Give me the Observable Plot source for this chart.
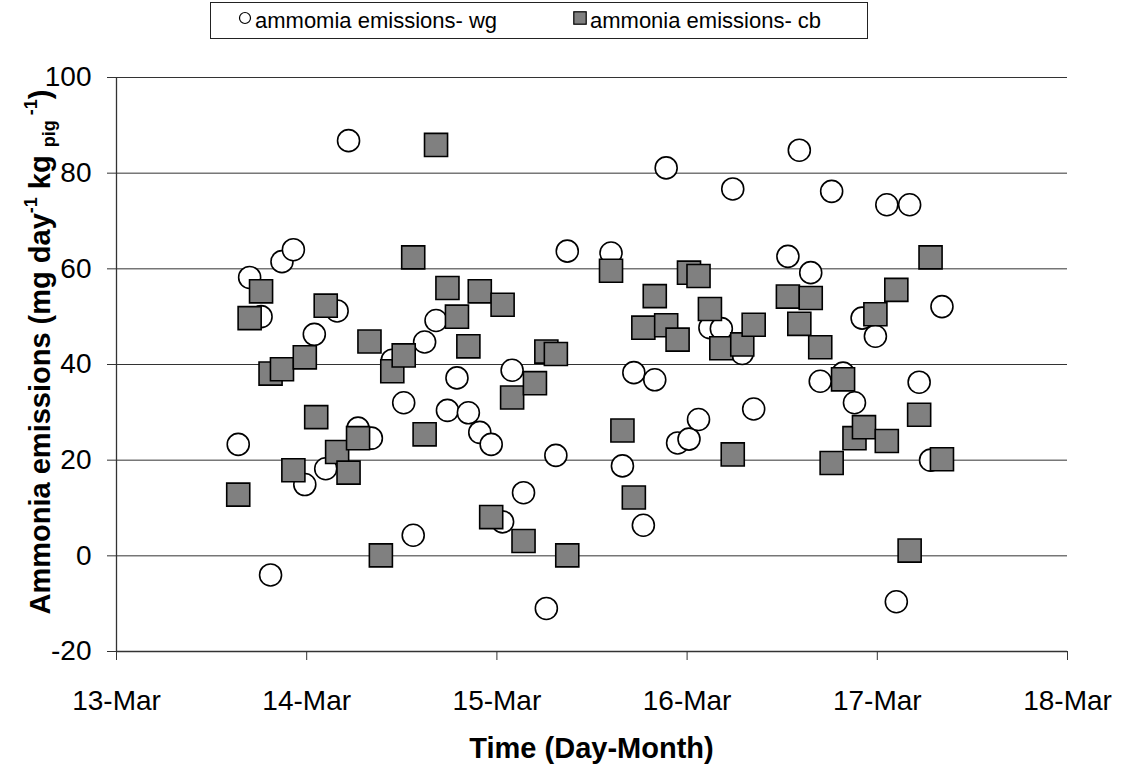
<!DOCTYPE html>
<html><head><meta charset="utf-8">
<script src="https://cdn.jsdelivr.net/npm/d3@7"></script>
<script src="https://cdn.jsdelivr.net/npm/@observablehq/plot@0.6"></script>
<style>
body{margin:0;background:#fff;font-family:"Liberation Sans",Arial,sans-serif;}
#wrap{position:relative;width:1126px;}
#legend{position:relative;height:45px;}
#legend .box{position:absolute;left:210px;top:2px;width:658px;height:37px;border:1px solid #222;box-sizing:border-box;}
.item{position:absolute;top:0;height:35px;display:flex;align-items:center;font-size:22px;color:#000;white-space:nowrap;}
.item svg{margin-right:3px;margin-top:-6px;}
</style></head><body>
<div id="wrap">
<div id="legend"><div class="box">
 <div class="item" style="left:27px"><svg width="14" height="14"><circle cx="7" cy="7" r="5.5" fill="#fff" stroke="#000" stroke-width="1.2"/></svg><span id="lg1"></span></div>
 <div class="item" style="left:362px"><svg width="14" height="14"><rect x="0.8" y="0.8" width="12.4" height="12.4" fill="#808080" stroke="#000" stroke-width="1.2"/></svg><span id="lg2"></span></div>
</div></div>
<div id="chart"></div>
</div>
<script>
// Series names
const seriesNames = ["ammomia emissions- wg", "ammonia emissions- cb"];
// Time in days of March (decimal)
const wgTime = [13.64,13.70,13.76,13.81,13.87,13.93,13.99,14.04,14.10,14.16,14.22,14.27,14.34,
  14.45,14.51,14.56,14.62,14.68,14.74,14.79,14.85,14.91,14.97,
  15.03,15.08,15.14,15.26,15.31,15.37,
  15.60,15.66,15.72,15.77,15.83,15.89,15.95,
  16.01,16.06,16.12,16.18,16.24,16.29,16.35,
  16.53,16.59,16.65,16.70,16.76,16.82,16.88,16.92,16.99,
  17.05,17.10,17.17,17.22,17.28,17.34];
const wgValue = [23.3,58.2,50.0,-4.0,61.5,64.0,14.9,46.3,18.2,51.2,86.8,26.7,24.6,
  40.9,32.0,4.3,44.7,49.2,30.4,37.2,29.9,25.8,23.3,
  7.1,38.8,13.2,-11.0,21.0,63.7,
  63.3,18.8,38.3,6.4,36.8,81.1,23.6,
  24.4,28.5,47.7,47.5,76.7,42.3,30.7,
  62.6,84.8,59.2,36.5,76.2,38.2,32.0,49.7,45.9,
  73.4,-9.6,73.4,36.3,20.0,52.1];
const cbTime = [13.64,13.70,13.76,13.81,13.87,13.93,13.99,14.05,14.10,14.16,14.22,14.27,14.33,14.39,
  14.45,14.51,14.56,14.62,14.68,14.74,14.79,14.85,14.91,14.97,
  15.03,15.08,15.14,15.20,15.26,15.31,15.37,
  15.60,15.66,15.72,15.77,15.83,15.89,15.95,
  16.01,16.06,16.12,16.18,16.24,16.29,16.35,
  16.53,16.59,16.65,16.70,16.76,16.82,16.88,16.93,16.99,
  17.05,17.10,17.17,17.22,17.28,17.34];
const cbValue = [12.8,49.7,55.3,38.1,39.0,17.9,41.5,29.0,52.3,21.7,17.4,24.6,44.8,0.1,
  38.6,41.9,62.4,25.4,85.9,56.0,50.0,43.8,55.3,8.1,
  52.5,33.1,3.1,36.1,42.7,42.2,0.1,
  59.6,26.2,12.2,47.7,54.3,48.2,45.2,
  59.2,58.5,51.6,43.4,21.2,44.2,48.3,
  54.2,48.5,53.9,43.6,19.4,36.9,24.6,26.9,50.5,
  24.0,55.6,1.1,29.5,62.4,20.2];
// Axis ticks
const xTicks = [13,14,15,16,17,18];
const xTickLabels = ["13-Mar","14-Mar","15-Mar","16-Mar","17-Mar","18-Mar"];
const yTicks = [-20,0,20,40,60,80,100];
const yTickLabels = ["-20","0","20","40","60","80","100"];
const xTitle = "Time (Day-Month)";

document.getElementById("lg1").textContent = seriesNames[0];
document.getElementById("lg2").textContent = seriesNames[1];

const wg = wgTime.map((t,i)=>({t, v: wgValue[i]}));
const cb = cbTime.map((t,i)=>({t, v: cbValue[i]}));
const FONT = "Liberation Sans, Arial, sans-serif";

const chart = Plot.plot({
  width: 1126, height: 720,
  marginLeft: 116, marginRight: 59, marginTop: 32, marginBottom: 114,
  x: {domain: [13, 18]},
  y: {domain: [-20, 100]},
  style: {fontFamily: FONT, background: "transparent", color: "#000"},
  marks: [
    Plot.ruleY(yTicks.filter(d => d > -20), {stroke: "#333", strokeWidth: 1}),
    Plot.axisY(yTicks, {tickSize: 9, tickPadding: 16, fontSize: 28, label: null, stroke: "#333",
      tickFormat: d => yTickLabels[yTicks.indexOf(d)]}),
    Plot.axisX(xTicks, {tickSize: 9, tickPadding: 30, fontSize: 28, label: null, stroke: "#333",
      tickFormat: d => xTickLabels[xTicks.indexOf(d)]}),
    Plot.ruleX([13], {stroke: "#333", strokeWidth: 1.3}),
    Plot.ruleY([-20], {stroke: "#333", strokeWidth: 1.3}),
    Plot.dot(wg, {x: "t", y: "v", r: 11, fill: "#fff", stroke: "#000", strokeWidth: 1.6}),
    Plot.dot(cb, {x: "t", y: "v", symbol: "square", r: 13, fill: "#808080", stroke: "#000", strokeWidth: 1.6})
  ]
});
document.getElementById("chart").appendChild(chart);

const svg = d3.select(chart);
const xr = chart.scale("x").range, yr = chart.scale("y").range;
// x title
svg.append("text").attr("x", (xr[0]+xr[1])/2).attr("y", 713)
  .attr("text-anchor","middle").attr("font-family", FONT).attr("font-weight","bold")
  .attr("font-size", 29).attr("fill","#000").text(xTitle);
// y title with super/subscripts
const yt = svg.append("text").attr("transform", `translate(50,${(yr[0]+yr[1])/2 - 12}) rotate(-90)`)
  .attr("text-anchor","middle").attr("font-family", FONT).attr("font-weight","bold")
  .attr("font-size", 29).attr("fill","#000");
yt.append("tspan").text("Ammonia emissions (mg day");
yt.append("tspan").attr("font-size", 18).attr("dy", -13).text("-1");
yt.append("tspan").attr("dy", 13).text(" kg ");
yt.append("tspan").attr("font-size", 18).attr("dy", 5).text("pig");
yt.append("tspan").attr("font-size", 18).attr("dy", -18).text(" -1");
yt.append("tspan").attr("dy", 13).text(")");
</script>
</body></html>
